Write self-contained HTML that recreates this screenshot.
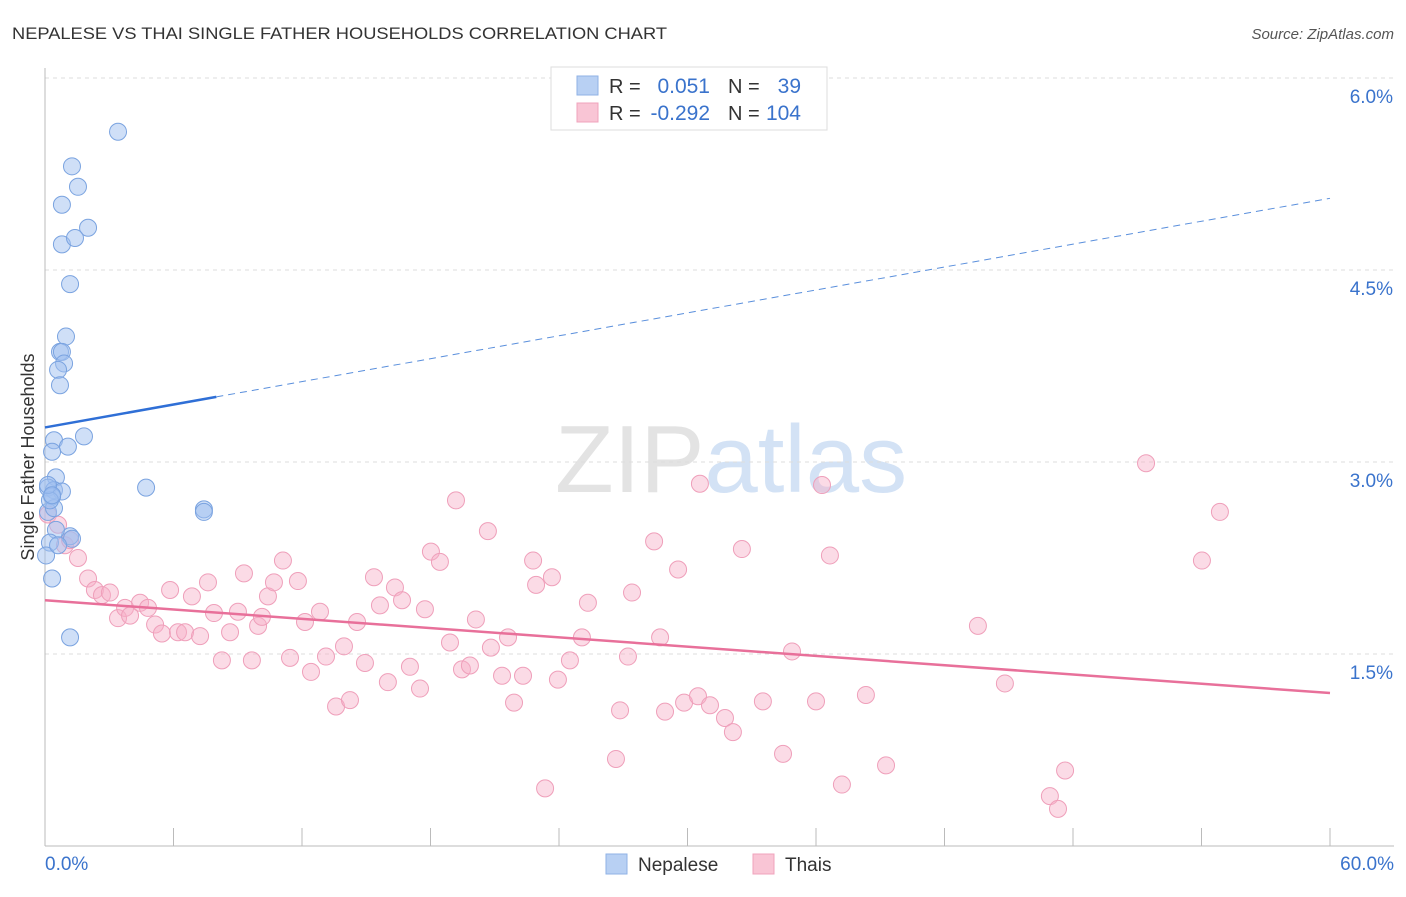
<!DOCTYPE html>
<html><head><meta charset="utf-8"><style>
body{margin:0;background:#fff;font-family:"Liberation Sans",sans-serif;}
svg text{font-family:"Liberation Sans",sans-serif;}
</style></head><body>
<svg id="chart" width="1406" height="892" xmlns="http://www.w3.org/2000/svg">
<text x="12" y="39" font-size="17" fill="#333" textLength="655" lengthAdjust="spacingAndGlyphs">NEPALESE VS THAI SINGLE FATHER HOUSEHOLDS CORRELATION CHART</text>
<text x="1394" y="39" font-size="15" fill="#555" text-anchor="end" font-style="italic">Source: ZipAtlas.com</text>
<text x="555" y="492" font-size="96" fill="#e3e3e3" font-family="Liberation Serif">ZIP<tspan fill="#d3e2f5" font-family="Liberation Sans">atlas</tspan></text>
<g id="grid"></g>
<g id="axes"></g>
<g id="points"></g>
<g id="lines"></g>
<text transform="translate(34,457) rotate(-90)" font-size="18" fill="#333" text-anchor="middle">Single Father Households</text>
<g>
<rect x="551" y="67" width="276" height="63" fill="#fff" stroke="#ddd"/>
<rect x="577" y="76" width="21" height="19" fill="#b8d0f3" stroke="#8fb2e6"/>
<rect x="577" y="103" width="21" height="19" fill="#f9c5d5" stroke="#f0a3bc"/>
<text x="609" y="93" font-size="20" fill="#333">R =</text>
<text x="710" y="93" font-size="21" fill="#3a73cc" text-anchor="end">0.051</text>
<text x="728" y="93" font-size="20" fill="#333">N =</text>
<text x="801" y="93" font-size="21" fill="#3a73cc" text-anchor="end">39</text>
<text x="609" y="120" font-size="20" fill="#333">R =</text>
<text x="710" y="120" font-size="21" fill="#3a73cc" text-anchor="end">-0.292</text>
<text x="728" y="120" font-size="20" fill="#333">N =</text>
<text x="801" y="120" font-size="21" fill="#3a73cc" text-anchor="end">104</text>
</g>
<g>
<rect x="606" y="854" width="21" height="20" fill="#b8d0f3" stroke="#8fb2e6"/>
<text x="638" y="871" font-size="19" fill="#333">Nepalese</text>
<rect x="753" y="854" width="21" height="20" fill="#f9c5d5" stroke="#f0a3bc"/>
<text x="785" y="871" font-size="19" fill="#333">Thais</text>
</g>
</svg>
<script>
const yTicks=[1.5,3.0,4.5,6.0];
const xTickLabels=["0.0%","60.0%"];
const nepX=[3.41,1.26,1.54,0.79,2.01,0.79,1.40,1.17,0.98,0.70,0.79,0.89,0.61,0.70,1.82,0.42,1.07,0.33,0.51,0.14,0.42,0.79,4.72,7.42,7.42,0.33,0.14,0.42,1.17,1.26,0.51,0.23,0.05,0.33,1.17,0.23,0.14,0.33,0.61];
const nepY=[5.58,5.31,5.15,5.01,4.83,4.70,4.75,4.39,3.98,3.86,3.86,3.77,3.72,3.60,3.20,3.17,3.12,3.08,2.88,2.80,2.78,2.77,2.80,2.63,2.61,2.73,2.61,2.64,2.42,2.40,2.47,2.37,2.27,2.09,1.63,2.70,2.82,2.74,2.35];
const thaiX=[0.14,0.61,0.93,1.17,1.54,2.01,2.33,2.66,3.03,3.41,3.74,3.97,4.44,4.81,5.14,5.46,5.84,6.21,6.54,6.86,7.24,7.61,7.89,8.26,8.64,9.01,9.29,9.66,9.95,10.13,10.41,10.69,11.11,11.44,11.81,12.14,12.42,12.84,13.12,13.59,13.96,14.24,14.57,14.94,15.36,15.64,16.01,16.34,16.67,17.04,17.51,17.74,18.02,18.44,18.91,19.19,19.47,19.84,20.12,20.68,20.82,21.34,21.62,21.90,22.32,22.79,22.93,23.35,23.67,23.95,24.51,25.07,25.35,26.66,26.85,27.22,27.41,28.44,28.72,28.95,29.56,29.84,30.49,30.58,31.05,31.75,32.12,32.54,33.52,34.46,34.88,36.00,36.28,36.65,37.21,38.33,39.27,43.56,44.82,46.92,47.30,47.63,51.41,54.02,54.86];
const thaiY=[2.59,2.51,2.35,2.39,2.25,2.09,2.00,1.96,1.98,1.78,1.86,1.80,1.90,1.86,1.73,1.66,2.00,1.67,1.67,1.95,1.64,2.06,1.82,1.45,1.67,1.83,2.13,1.45,1.72,1.79,1.95,2.06,2.23,1.47,2.07,1.75,1.36,1.83,1.48,1.09,1.56,1.14,1.75,1.43,2.10,1.88,1.28,2.02,1.92,1.40,1.23,1.85,2.30,2.22,1.59,2.70,1.38,1.41,1.77,2.46,1.55,1.33,1.63,1.12,1.33,2.23,2.04,0.45,2.10,1.30,1.45,1.63,1.90,0.68,1.06,1.48,1.98,2.38,1.63,1.05,2.16,1.12,1.17,2.83,1.10,1.00,0.89,2.32,1.13,0.72,1.52,1.13,2.82,2.27,0.48,1.18,0.63,1.72,1.27,0.39,0.29,0.59,2.99,2.23,2.61];
const nepTrend=[3.27,5.06];
const thaiTrend=[1.92,1.195];
const NS="http://www.w3.org/2000/svg";
const xs=v=>45+v/60*1285;
const ys=v=>846-v*128;
function mk(tag,attrs,parent){const e=document.createElementNS(NS,tag);for(const k in attrs)e.setAttribute(k,attrs[k]);document.getElementById(parent).appendChild(e);return e;}
yTicks.forEach(t=>{
 const l=mk('line',{x1:45,x2:1394,y1:ys(t),y2:ys(t),stroke:'#ddd','stroke-dasharray':'4,4'},'grid');
 
 
 const tx=mk('text',{x:1393,y:ys(t)+25,'font-size':19,fill:'#3a73cc','text-anchor':'end'},'grid');
 tx.textContent=t.toFixed(1)+'%';
 
 
});
let a=mk('line',{x1:45,x2:45,y1:68,y2:846,stroke:'#bbb'},'axes');


a=mk('line',{x1:45,x2:1394,y1:846,y2:846,stroke:'#bbb'},'axes');


for(let i=0;i<=10;i++){
 const t=mk('line',{x1:xs(i*6),x2:xs(i*6),y1:828,y2:846,stroke:'#bbb'},'axes');
 
 
}
[[0,'start',45],[60,'end',1394]].forEach((d,i)=>{
 const t=mk('text',{x:d[2],y:870,'font-size':19,fill:'#3a73cc','text-anchor':d[1]},'axes');
 t.textContent=xTickLabels[i];
 
 
});
thaiX.forEach((x,i)=>{
 const c=mk('circle',{cx:xs(x),cy:ys(thaiY[i]),r:8.5,fill:'rgba(247,175,199,0.45)',stroke:'#ef9fba','stroke-width':1},'points');
 
 
});
nepX.forEach((x,i)=>{
 const c=mk('circle',{cx:xs(x),cy:ys(nepY[i]),r:8.5,fill:'rgba(160,192,240,0.5)',stroke:'#7aa3e0','stroke-width':1},'points');
 
 
});
const nv=x=>nepTrend[0]+(nepTrend[1]-nepTrend[0])*x/60;
let l=mk('line',{x1:xs(0),y1:ys(nv(0)),x2:xs(8),y2:ys(nv(8)),stroke:'#2f6fd6','stroke-width':2.5},'lines');


l=mk('line',{x1:xs(8),y1:ys(nv(8)),x2:xs(60),y2:ys(nv(60)),stroke:'#5a8fdc','stroke-width':1,'stroke-dasharray':'7,5'},'lines');


l=mk('line',{x1:xs(0),y1:ys(thaiTrend[0]),x2:xs(60),y2:ys(thaiTrend[1]),stroke:'#e8709a','stroke-width':2.5},'lines');


</script>
</body></html>
